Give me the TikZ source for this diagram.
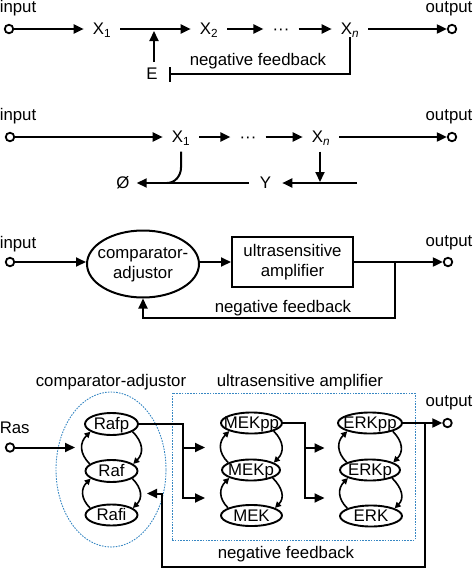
\documentclass[tikz,border=0pt]{standalone}
\usepackage{fontspec}
\setmainfont{Liberation Sans}
\usetikzlibrary{arrows.meta,shapes.geometric}
\definecolor{dblue}{RGB}{55,135,195}
\newcommand\mycyc[2]{%
  \draw[cyca] (#2.162) to[out=135,in=225] (#1.200);
  \draw[cyca] (#1.-20) to[out=-45,in=45] (#2.18);}
\begin{document}
\begin{tikzpicture}[x=1pt,y=-1pt,
  every node/.style={font=\fontsize{16.8}{20}\selectfont},
  txt/.style={inner sep=0pt, text height=11.6pt, text depth=0pt},
  lbl/.style={inner xsep=9pt, inner ysep=2pt, text height=11.6pt, text depth=0pt},
  term/.style={circle, draw, fill=white, line width=1.8pt, minimum size=8.5pt, inner sep=0pt},
  ln/.style={line width=2pt},
  conn/.style={ln, -{Triangle[length=10pt,width=9pt]}},
  inh/.style={ln, -{Bar[width=15pt]}},
  enode/.style={ellipse, draw, line width=1.9pt, inner sep=0pt, minimum height=21pt, text height=11.6pt, text depth=0pt},
  cyca/.style={line width=1.6pt, -{Triangle[length=6pt,width=6pt]}, looseness=1.2},
  dashblue/.style={draw=dblue, line width=0.9pt, dash pattern=on 1.6pt off 1.2pt},
]
\useasboundingbox (0,0) rectangle (474,568);

% ---------- panel 1 ----------
\node[txt] (tin1) at (18,7) {input};
\node[txt] (tout1) at (449,7) {output};
\node[term] (in1) at (9,29) {};
\node[lbl] (X11) at (102,29) {X\textsubscript{1}};
\node[lbl] (X12) at (209,29) {X\textsubscript{2}};
\node[lbl] (D1) at (281,29) {···};
\node[lbl] (Xn1) at (350,29) {X\textsubscript{\itshape n}};
\node[term] (out1) at (452,29) {};
\node[lbl, inner ysep=6pt] (E1) at (152,74) {E};
\coordinate (j1) at (154,31);
\coordinate (fb1) at (169,74);
\draw[conn] (in1) -- (X11);
\draw[conn] (X11) -- (X12);
\draw[conn] (X12) -- (D1);
\draw[conn] (D1) -- (Xn1);
\draw[conn] (Xn1) -- (out1);
\draw[conn] (E1.north -| j1) -- (j1);
\draw[inh] (Xn1.south) |- (fb1);
\node[txt] (nf1) at (258,60) {negative feedback};

% ---------- panel 2 ----------
\node[txt] (tin2) at (18,115) {input};
\node[txt] (tout2) at (449,115) {output};
\node[term] (in2) at (10,137) {};
\node[lbl, inner ysep=8.5pt] (X21) at (181,137) {X\textsubscript{1}};
\node[lbl] (D2) at (248,137) {···};
\node[lbl, inner ysep=8.5pt] (Xn2) at (321,137) {X\textsubscript{\itshape n}};
\node[term] (out2) at (452,137) {};
\node[lbl, inner xsep=11pt] (Y2) at (265.5,183) {Y};
\node[lbl, inner xsep=7pt] (O2) at (123,183) {Ø};
\coordinate (r2) at (357,183);
\coordinate (j2) at (320,182);
\coordinate (c2) at (167,183);
\draw[conn] (in2) -- (X21);
\draw[conn] (X21) -- (D2);
\draw[conn] (D2) -- (Xn2);
\draw[conn] (Xn2) -- (out2);
\draw[conn] (Xn2.south -| j2) -- (j2);
\draw[conn] (r2) -- (Y2);
\draw[conn] (Y2) -- (O2);
\draw[ln] (X21.south) -- ++(0,16) to[out=-90,in=0] (c2);

% ---------- panel 3 ----------
\node[txt] (tin3) at (18,243) {input};
\node[txt] (tout3) at (449,241) {output};
\node[term] (in3) at (10,262) {};
\node[ellipse, draw, ln, minimum width=112pt, minimum height=67pt, inner sep=0pt] (CA) at (143,264)
  {\makebox[0pt]{\begin{tabular}{@{}c@{}}comparator-\\adjustor\end{tabular}}};
\node[draw, ln, minimum width=121pt, minimum height=50pt, align=center, inner sep=0pt] (UA) at (292.5,262) {ultrasensitive\\amplifier};
\node[term] (out3) at (448,262) {};
\coordinate (fb3) at (395,262);
\coordinate (fb3b) at (395,318);
\draw[conn] (in3) -- (in3 -| CA.west);
\draw[conn] (CA.east |- UA) -- (UA.west);
\draw[conn] (UA.east) -- (out3);
\draw[conn] (fb3) -- (fb3b) -| (CA.south);
\node[txt] (nf3) at (283,307) {negative feedback};

% ---------- panel 4 ----------
\node[ellipse, dashblue, minimum width=110pt, minimum height=155pt] (CAbox) at (111,469.5) {};
\node[dashblue, minimum width=243pt, minimum height=147pt, inner sep=0pt] (UAbox) at (293.5,466.5) {};
\node[txt] (tca) at (111,381) {comparator-adjustor};
\node[txt] (tua) at (300,381) {ultrasensitive amplifier};
\node[txt] (tout4) at (449,401) {output};
\node[txt] (tras) at (14.7,428) {Ras};
\node[term] (ras) at (10,447.5) {};
\coordinate (rasend) at (75,447.5);
\draw[conn] (ras) -- (rasend);

\node[enode, minimum width=53pt, minimum height=22pt] (Rafp) at (111.5,424) {\makebox[0pt]{Rafp}};
\node[enode, minimum width=52pt, minimum height=22pt] (Raf) at (111.5,471) {\makebox[0pt]{Raf}};
\node[enode, minimum width=52pt] (Rafi) at (111.5,515) {\makebox[0pt]{Rafi}};
\node[enode, minimum width=61pt] (MEKpp) at (251.5,423) {\makebox[0pt]{MEKpp}};
\node[enode, minimum width=58pt] (MEKp) at (251,470) {\makebox[0pt]{MEKp}};
\node[enode, minimum width=61pt] (MEK) at (251.5,515.5) {\makebox[0pt]{MEK}};
\node[enode, minimum width=64pt] (ERKpp) at (370,423) {\makebox[0pt]{ERKpp}};
\node[enode, minimum width=60pt] (ERKp) at (370,470) {\makebox[0pt]{ERKp}};
\node[enode, minimum width=62pt] (ERK) at (371,516) {\makebox[0pt]{ERK}};

\mycyc{Rafp}{Raf}
\mycyc{Raf}{Rafi}
\mycyc{MEKpp}{MEKp}
\mycyc{MEKp}{MEK}
\mycyc{ERKpp}{ERKp}
\mycyc{ERKp}{ERK}

\coordinate (b1) at (183,447.5);
\coordinate (b2) at (183,498);
\coordinate (m1) at (205,447.5);
\coordinate (m2) at (205,498);
\draw[conn] (Rafp.east) -| (b2) -- (m2);
\draw[conn] (b1) -- (m1);
\coordinate (b3) at (305,448);
\coordinate (b4) at (305,498);
\coordinate (m3) at (324.5,448);
\coordinate (m4) at (324.5,498);
\draw[conn] (MEKpp.east) -| (b4) -- (m4);
\draw[conn] (b3) -- (m3);

\node[term] (out4) at (447.5,423) {};
\coordinate (fb4) at (425,423);
\coordinate (fb4b) at (425,566.5);
\coordinate (fb4c) at (162,493.5);
\coordinate (fb4d) at (147,493.5);
\draw[conn] (ERKpp.east) -- (out4);
\draw[conn] (fb4) -- (fb4b) -| (fb4c) -- (fb4d);
\node[txt] (nf4) at (286,553) {negative feedback};
\end{tikzpicture}
\end{document}
